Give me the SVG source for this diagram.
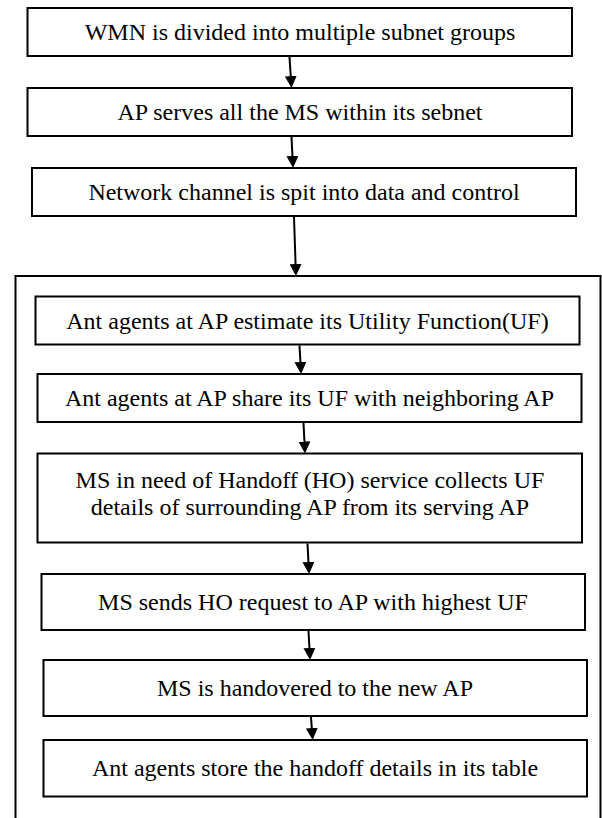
<svg xmlns="http://www.w3.org/2000/svg" width="602" height="818" viewBox="0 0 602 818">
<style>
.box{fill:#fff;stroke:#000;stroke-width:2}
.frame{fill:none;stroke:#000;stroke-width:2}
.t{font-size:24px;fill:#000;text-anchor:middle}
.c{stroke:#000;stroke-width:2;fill:none;marker-end:url(#ah)}
</style>
<defs>
<marker id="ah" markerUnits="userSpaceOnUse" markerWidth="12" markerHeight="12" refX="7" refY="6" orient="auto">
<path d="M0,0 L12,6 L0,12 z" fill="#000"/>
</marker>
</defs>
<rect id="frame" class="frame" x="15.5" y="276" width="585" height="560"/>
<g font-family="'Liberation Serif', 'Times New Roman', 'DejaVu Serif', serif">
<g id="n1"><rect class="box" x="27.5" y="8" width="544.5" height="48"/><text class="t" x="300" y="40">WMN is divided into multiple subnet groups</text></g>
<g id="n2"><rect class="box" x="27.5" y="88" width="544.5" height="48"/><text class="t" x="300" y="120">AP serves all the MS within its sebnet</text></g>
<g id="n3"><rect class="box" x="32" y="168" width="544" height="48"/><text class="t" x="304" y="200">Network channel is spit into data and control</text></g>
<g id="n4"><rect class="box" x="35.5" y="296.5" width="544" height="48"/><text class="t" x="307.5" y="328.5">Ant agents at AP estimate its Utility Function(UF)</text></g>
<g id="n5"><rect class="box" x="37.5" y="374" width="544" height="48"/><text class="t" x="309.5" y="406">Ant agents at AP share its UF with neighboring AP</text></g>
<g id="n6"><rect class="box" x="37.5" y="453.5" width="544.5" height="89"/><text class="t" x="310" y="488">MS in need of Handoff (HO) service collects UF</text><text class="t" x="310" y="515">details of surrounding AP from its serving AP</text></g>
<g id="n7"><rect class="box" x="41.5" y="574" width="543.5" height="56"/><text class="t" x="313" y="610">MS sends HO request to AP with highest UF</text></g>
<g id="n8"><rect class="box" x="43.5" y="660" width="543.5" height="56"/><text class="t" x="315" y="696">MS is handovered to the new AP</text></g>
<g id="n9"><rect class="box" x="43.5" y="740" width="543.5" height="56.5"/><text class="t" x="315" y="776">Ant agents store the handoff details in its table</text></g>
</g>
<g id="connectors">
<line class="c" x1="289.5" y1="57" x2="291.2" y2="83"/>
<line class="c" x1="291.5" y1="137" x2="292.8" y2="163"/>
<line class="c" x1="294" y1="217" x2="295.8" y2="271"/>
<line class="c" x1="299.5" y1="345.5" x2="300.8" y2="369"/>
<line class="c" x1="303.5" y1="423" x2="304.8" y2="448.5"/>
<line class="c" x1="307.5" y1="543.5" x2="308.8" y2="569"/>
<line class="c" x1="308.5" y1="631" x2="309.8" y2="655"/>
<line class="c" x1="311" y1="717" x2="312.3" y2="735"/>
</g>
</svg>
